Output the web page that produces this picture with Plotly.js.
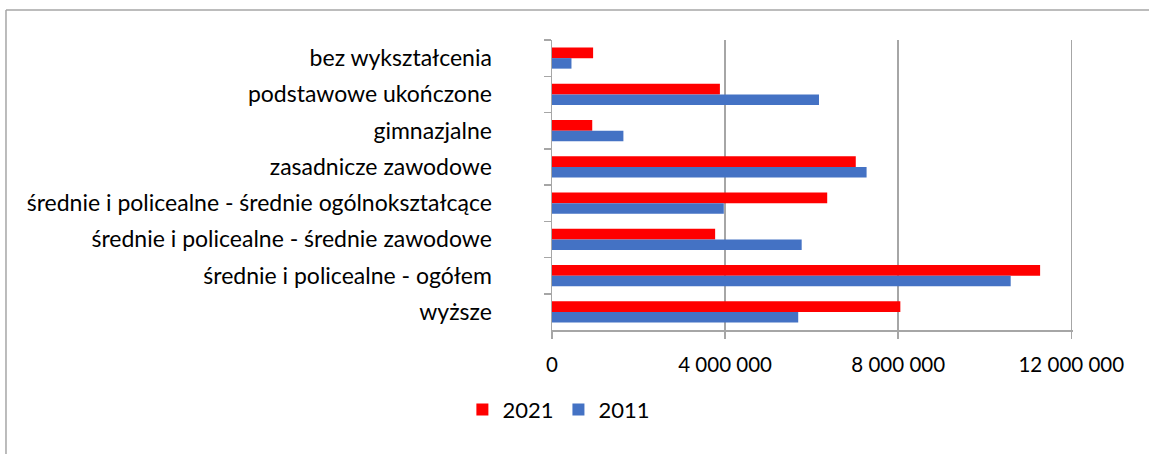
<!DOCTYPE html>
<html>
<head>
<meta charset="utf-8">
<script src="https://cdn.plot.ly/plotly-3.0.1.min.js"></script>
<style>html,body{margin:0;padding:0;background:#fff;}#chart{width:1149px;height:454px;}</style>
</head>
<body>
<div id="chart"></div>
<script>
const categories = [
  "bez wykształcenia",
  "podstawowe ukończone",
  "gimnazjalne",
  "zasadnicze zawodowe",
  "średnie i policealne - średnie ogólnokształcące",
  "średnie i policealne - średnie zawodowe",
  "średnie i policealne - ogółem",
  "wyższe"
];
const values2021 = [950000, 3880000, 930000, 7020000, 6360000, 3770000, 11280000, 8050000];
const values2011 = [450000, 6170000, 1650000, 7270000, 3970000, 5770000, 10600000, 5690000];
const seriesNames = ["2021", "2011"];
const xTicks = [0, 4000000, 8000000, 12000000];
const xTickText = ["0", "4 000 000", "8 000 000", "12 000 000"];

const font = "Lato, 'Open Sans', sans-serif";
const traces = [
  {type: "bar", orientation: "h", name: seriesNames[0], y: categories, x: values2021,
   marker: {color: "#ff0000"}},
  {type: "bar", orientation: "h", name: seriesNames[1], y: categories, x: values2011,
   marker: {color: "#4472c4"}}
];
const layout = {
  width: 1149, height: 454,
  margin: {l: 552, r: 76, t: 40, b: 124, pad: 0},
  paper_bgcolor: "#ffffff", plot_bgcolor: "#ffffff",
  barmode: "group", bargap: 0.42, bargroupgap: 0,
  font: {family: font, size: 23, color: "#000"},
  showlegend: true,
  legend: {orientation: "h", x: -0.172, xanchor: "left", y: -0.275, yanchor: "middle",
           font: {family: font, size: 22, color: "#000"}, traceorder: "normal"},
  xaxis: {range: [0, 12040000], tickvals: xTicks, ticktext: xTickText,
          showgrid: true, gridcolor: "#a6a6a6", gridwidth: 1.5,
          zeroline: false, showline: true, linecolor: "#a6a6a6", linewidth: 1.5,
          ticks: "outside", ticklen: 7, tickcolor: "#a6a6a6", tickwidth: 1.5,
          ticklabelstandoff: 9,
          tickfont: {family: font, size: 20.5}, fixedrange: true},
  yaxis: {autorange: "reversed", type: "category", tickson: "boundaries",
          showgrid: false, zeroline: false, showline: true, linecolor: "#a6a6a6", linewidth: 1.5,
          ticks: "outside", ticklen: 7, tickcolor: "#a6a6a6", tickwidth: 1.5,
          ticklabelstandoff: 54,
          tickfont: {family: font, size: 23}, fixedrange: true},
  shapes: [
    {type: "line", xref: "paper", yref: "paper", x0: -1.048, x1: 1.3, y0: 1.1034, y1: 1.1034,
     line: {color: "#a6a6a6", width: 1.5}},
    {type: "line", xref: "paper", yref: "paper", x0: -1.048, x1: -1.048, y0: 1.1034, y1: -0.5,
     line: {color: "#a6a6a6", width: 1.5}}
  ]
};
Plotly.newPlot("chart", traces, layout, {displayModeBar: false, staticPlot: true});
</script>
</body>
</html>
